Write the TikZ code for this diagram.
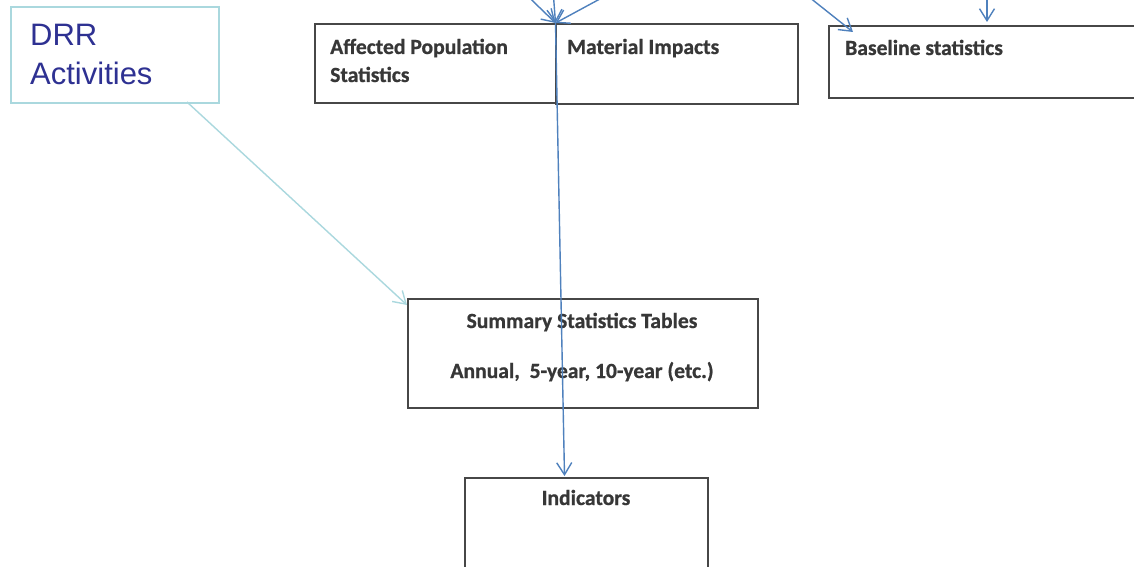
\documentclass[tikz,border=0pt]{standalone}
\usepackage{fontspec}
\usetikzlibrary{arrows.meta}
\newfontfamily\calfont{Carlito}[FakeBold=0.8]
\newfontfamily\arfont{Liberation Sans}
\definecolor{flowblue}{RGB}{79,129,189}
\definecolor{drrcyan}{RGB}{170,216,222}
\definecolor{drrtext}{RGB}{46,49,146}
\definecolor{txtgray}{RGB}{55,55,55}
\begin{document}
\begin{tikzpicture}[x=1pt,y=-1pt,
  box/.style={draw=black!72, line width=1.6pt, anchor=north west, inner sep=0pt},
  lbl/.style={inner sep=0pt, text=txtgray, font=\calfont\bfseries\fontsize{21.6}{28}\selectfont},
  flow/.style={draw=flowblue, line width=1.4pt, -{Straight Barb[length=12pt,width=15pt,line width=1.4pt]}},
  drrbox/.style={draw=drrcyan, line width=1.6pt, anchor=north west, inner sep=0pt, minimum width=208pt, minimum height=96pt},
  drrarrow/.style={draw=drrcyan, line width=1.4pt, -{Straight Barb[length=12pt,width=15pt,line width=1.4pt]}}]
\useasboundingbox[fill=white] (0,0) rectangle (1134,567);

% boxes
\node[drrbox] (drr) at (10,6) {};
\node[inner sep=0pt, anchor=base west, align=left, text=drrtext, font=\arfont\fontsize{31}{39}\selectfont] (drrt) at (30,85) {DRR\\Activities};

\node[box, minimum width=241pt, minimum height=79pt] (aff) at (314,23) {};
\node[box, minimum width=242pt, minimum height=80pt] (mat) at (555,23) {};
\node[box, minimum width=330pt, minimum height=72pt] (base) at (828,25) {};
\node[box, minimum width=350pt, minimum height=109pt] (summ) at (407,298) {};
\node[box, minimum width=243pt, minimum height=110pt] (ind) at (464,477) {};

\node[lbl, anchor=base west, align=left] (afft) at (330,82) {Affected Population\\Statistics};
\node[lbl, anchor=base west] (matt) at (567,54) {Material Impacts};
\node[lbl, anchor=base west] (baset) at (845,55) {Baseline statistics};
\node[lbl, anchor=base] (summt1) at (582,328) {Summary Statistics Tables};
\node[lbl, anchor=base] (summt2) at (582,378) {Annual,\ \ 5-year, 10-year (etc.)};
\node[lbl, anchor=base] (indt) at (586,505) {Indicators};

% connector end points
\coordinate (j) at (555.5,23);
\coordinate (srcL) at (508,-23);
\coordinate (srcV) at (553,-10);
\coordinate (srcR) at (622,-13);
\coordinate (srcB) at (775,-30);
\coordinate (srcB2) at (987,-10);
\coordinate (bt) at (853,32);
\coordinate (bv) at (987,22);
\coordinate (it) at (564.5,476);
\coordinate (drrs) at (187,102);
\coordinate (st) at (407,305);

\draw[flow] (srcL) -- (j);
\draw[flow] (srcV) -- (j);
\draw[flow] (srcR) -- (j);
\draw[flow] (j) -- (it);
\draw[flow] (srcB) -- (bt);
\draw[flow] (srcB2) -- (bv);
\draw[drrarrow] (drrs) -- (st);
\end{tikzpicture}
\end{document}
